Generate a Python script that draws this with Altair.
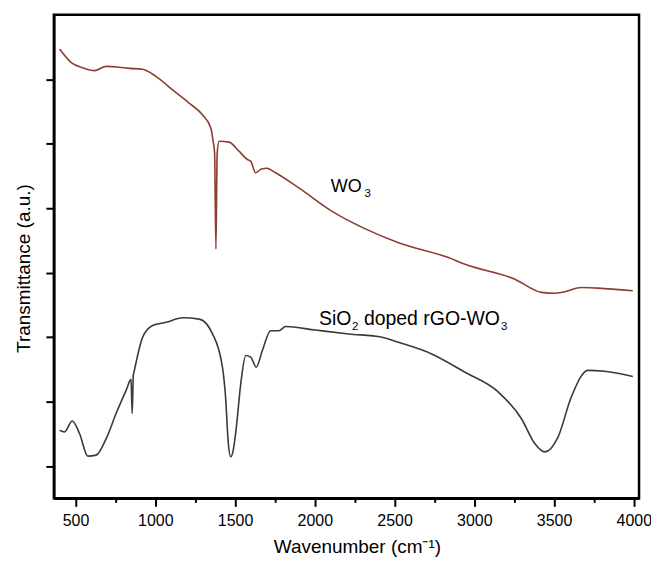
import altair as alt
import pandas as pd

# ---- data ----
wo3_x = [400, 473, 544, 619, 692, 838, 919, 1004, 1106, 1212, 1294, 1348, 1362, 1372, 1380, 1388,
         1400, 1462, 1525, 1575, 1598, 1629, 1662, 1700, 1754, 1900, 2106, 2317, 2525, 2838, 2942,
         3254, 3421, 3504, 3567, 3671, 3775, 3994]
wo3_y = [13.94, 13.52, 13.36, 13.27, 13.40, 13.34, 13.31, 13.09, 12.68, 12.26, 11.91, 11.49, 11.10,
         10.70, 7.73, 10.70, 11.08, 11.05, 10.77, 10.52, 10.46, 10.10, 10.21, 10.24, 10.10, 9.63, 8.91,
         8.36, 7.93, 7.47, 7.26, 6.80, 6.39, 6.36, 6.41, 6.54, 6.52, 6.44]

sio2_x = [400, 431, 479, 525, 577, 629, 692, 754, 817, 848, 855, 862, 869, 921, 983, 1067, 1171, 1275,
          1358, 1421, 1442, 1456, 1473, 1487, 1504, 1536, 1567, 1598, 1633, 1671, 1723, 1775, 1817, 2004,
          2213, 2421, 2525, 2733, 2942, 3150, 3296, 3379, 3442, 3525, 3608, 3713, 3817, 3994]
sio2_y = [2.11, 2.06, 2.40, 2.01, 1.31, 1.34, 1.85, 2.63, 3.35, 3.69, 2.63, 3.80, 3.97, 5.00, 5.36, 5.46,
          5.60, 5.56, 5.11, 4.07, 3.04, 1.82, 1.29, 1.45, 2.02, 3.56, 4.43, 4.38, 4.07, 4.58, 5.20, 5.20,
          5.33, 5.22, 5.10, 5.00, 4.84, 4.48, 3.91, 3.30, 2.47, 1.70, 1.44, 1.90, 3.14, 3.97, 3.94, 3.78]

series_names = ["WO3", "SiO2 doped rGO-WO3"]
series_colors = ["#8c3e30", "#3a3a3a"]

x_ticks = [500, 750, 1000, 1250, 1500, 1750, 2000, 2250, 2500, 2750, 3000, 3250, 3500, 3750, 4000]
y_ticks = list(range(1, 15))

# annotation texts (main part and subscript)
label_text = ["WO", "SiO", "doped rGO-WO"]
label_x = [2100, 2027, 2308]
label_y = [9.50, 5.38, 5.38]
label_size = [18, 19.5, 19.5]
sub_text = ["3", "2", "3"]
sub_x = [2312, 2233, 3168]
sub_y = [9.35, 5.23, 5.23]

df = pd.concat([
    pd.DataFrame({"wavenumber": wo3_x, "transmittance": wo3_y, "series": series_names[0]}),
    pd.DataFrame({"wavenumber": sio2_x, "transmittance": sio2_y, "series": series_names[1]}),
])
labels = pd.DataFrame({"wavenumber": label_x, "transmittance": label_y, "text": label_text,
                       "size": label_size})
subs = pd.DataFrame({"wavenumber": sub_x, "transmittance": sub_y, "text": sub_text})

xscale = alt.Scale(domain=[364, 4033], nice=False, zero=False)
yscale = alt.Scale(domain=[0, 15], nice=False, zero=False)

lines = alt.Chart(df).mark_line(strokeWidth=1.6, interpolate="monotone").encode(
    x=alt.X("wavenumber:Q", scale=xscale,
            axis=alt.Axis(values=x_ticks, format="d",
                          labelExpr="datum.value % 500 === 0 ? datum.label : ''",
                          tickSize={"condition": {"test": "datum.value % 500 === 0", "value": 8}, "value": 4},
                          labelPadding=6,
                          title="Wavenumber (cm⁻¹)", titleBaseline="alphabetic",
                          titleY=54, titleX=304, titleAlign="center")),
    y=alt.Y("transmittance:Q", scale=yscale,
            axis=alt.Axis(values=y_ticks, labels=False, tickSize=8,
                          title="Transmittance (a.u.)", titleX=-20, titleY=254)),
    color=alt.Color("series:N", scale=alt.Scale(domain=series_names, range=series_colors), legend=None),
)

text_main = alt.Chart(labels).mark_text(align="left", baseline="alphabetic",
                                        font="Liberation Sans", color="black").encode(
    x=alt.X("wavenumber:Q", scale=xscale), y=alt.Y("transmittance:Q", scale=yscale), text="text:N",
    size=alt.Size("size:Q", scale=None, legend=None))
text_sub = alt.Chart(subs).mark_text(align="left", baseline="alphabetic", fontSize=11.5,
                                     font="Liberation Sans", color="black").encode(
    x=alt.X("wavenumber:Q", scale=xscale), y=alt.Y("transmittance:Q", scale=yscale), text="text:N")

chart = alt.layer(lines, text_main, text_sub).properties(
    width=587, height=485,
    autosize=alt.AutoSizeParams(type="none"),
    padding={"left": 46, "top": 6, "right": 12, "bottom": 58},
).configure_view(stroke="black", strokeWidth=2.5).configure_axis(
    grid=False, domainColor="black", domainWidth=2.5, tickColor="black", tickWidth=2,
    labelFont="Liberation Sans", titleFont="Liberation Sans", labelFontSize=16, titleFontSize=19,
    labelColor="black", titleColor="black", titleFontWeight="normal",
)

chart.save("out.html", embed_options={"renderer": "svg", "actions": False})
